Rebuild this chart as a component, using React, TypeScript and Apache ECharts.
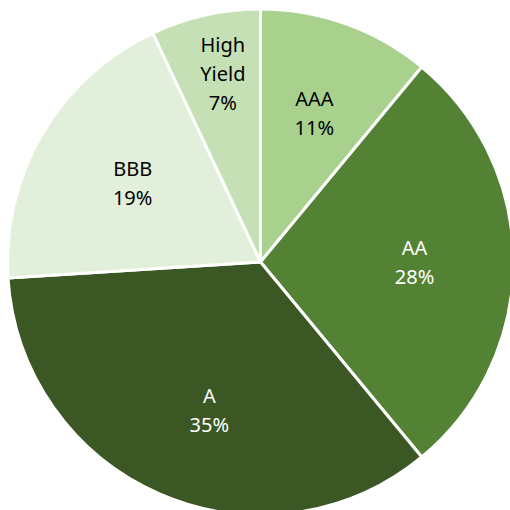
import React, { useEffect, useRef } from "react";
import * as echarts from "echarts";

const categories = ["AAA", "AA", "A", "BBB", "High\nYield"];
const values = [11, 28, 35, 19, 7];
const colors = ["#A9D18E", "#548235", "#3A5724", "#E2EFDA", "#C5E0B4"];
const textColors = ["#000000", "#FFFFFF", "#FFFFFF", "#000000", "#000000"];
const labelShifts = [
  { dx: 0, dy: 1 },
  { dx: -5, dy: 0 },
  { dx: 12, dy: 2 },
  { dx: 9, dy: 2 },
  { dx: -3, dy: -33 },
];

export default function App() {
  const ref = useRef<HTMLDivElement>(null);
  useEffect(() => {
    const chart = echarts.init(ref.current!, null, { renderer: "svg" });
    const pieData = categories.map((name, i) => ({
      name,
      value: values[i],
      itemStyle: { color: colors[i] },
    }));
    const labelData = categories.map((name, i) => ({
      name,
      value: values[i],
      label: { color: textColors[i] },
    }));
    chart.setOption({
      animation: false,
      series: [
        {
          type: "pie",
          center: [260.5, 262],
          radius: [0, 253],
          startAngle: 90,
          clockwise: true,
          silent: true,
          label: { show: false },
          labelLine: { show: false },
          itemStyle: { borderColor: "#FFFFFF", borderWidth: 3 },
          data: pieData,
        },
        {
          type: "pie",
          center: [260.5, 262],
          radius: [61, 251],
          startAngle: 90,
          clockwise: true,
          silent: true,
          itemStyle: { color: "rgba(0,0,0,0)" },
          labelLine: { show: false },
          label: {
            show: true,
            position: "inside",
            formatter: "{b}\n{c}%",
            fontFamily: "Noto Sans",
            fontSize: 20,
            lineHeight: 29,
          },
          labelLayout: (p: any) => labelShifts[p.dataIndex] || {},
          data: labelData,
        },
      ],
    });
    return () => chart.dispose();
  }, []);
  return (
    <div
      ref={ref}
      style={{ position: "absolute", left: 0, top: 0, width: 510, height: 510 }}
    />
  );
}
